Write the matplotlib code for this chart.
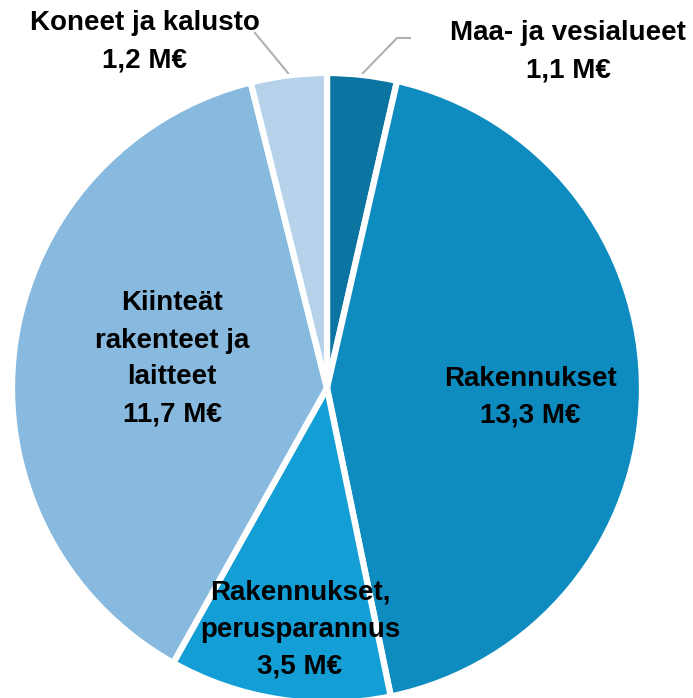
import matplotlib.pyplot as plt

# data: slices clockwise from 12 o'clock
labels = ['Maa- ja vesialueet', 'Rakennukset', 'Rakennukset,\nperusparannus',
          'Kiinteät\nrakenteet ja\nlaitteet', 'Koneet ja kalusto']
values = [1.1, 13.3, 3.5, 11.7, 1.2]
value_text = ['1,1 M€', '13,3 M€', '3,5 M€', '11,7 M€', '1,2 M€']
colors = ['#0C74A0', '#0E8CC0', '#139FD6', '#88B9DE', '#B6D2EB']

fig = plt.figure(figsize=(6.93, 6.98), dpi=100)
ax = fig.add_axes([0, 0, 1, 1])

cx, cy, r = 327, 310, 315
ax.pie(values, colors=colors, startangle=90, counterclock=False,
       center=(cx, cy), radius=r, frame=True,
       wedgeprops=dict(edgecolor='white', linewidth=4.5))
ax.set_xlim(0, 693)
ax.set_ylim(0, 698)
ax.set_aspect('equal')
ax.axis('off')

font = dict(family=['Liberation Sans', 'DejaVu Sans'], fontweight='bold',
            fontsize=20, ha='center', va='center', linespacing=1.55)

# label positions in pixel coords (y from top)
pos = [(568, 52), (530, 397), (300, 630), (172, 359), (145, 42)]
for lab, vt, (x, y) in zip(labels, value_text, pos):
    ax.text(x, 698 - y, lab + '\n' + vt, **font)

# leader lines for the small slices
grey = '#B0B0B0'
ax.plot([288, 255], [698 - 73, 698 - 33], color=grey, lw=1.5)
ax.plot([363, 397, 410], [698 - 73, 698 - 38, 698 - 38], color=grey, lw=1.5)

fig.savefig('out.png', dpi=100)
